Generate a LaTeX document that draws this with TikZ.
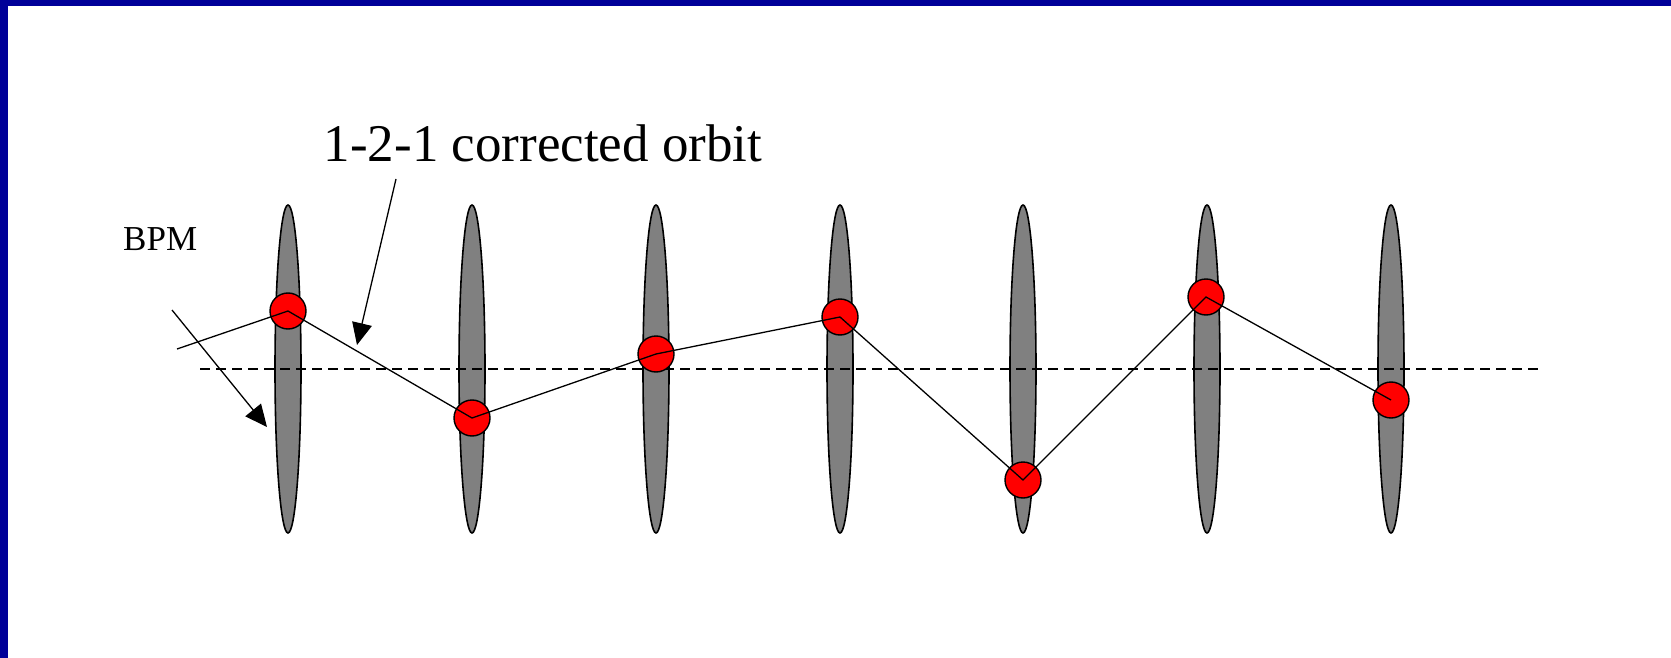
\documentclass[tikz,border=0pt]{standalone}
\usepackage{fontspec}
\setmainfont{Liberation Serif}
\usepackage{xcolor}
\usetikzlibrary{shapes.geometric,arrows.meta,positioning,calc}
\definecolor{frameblue}{RGB}{0,0,153}
\definecolor{lensgray}{RGB}{128,128,128}
\definecolor{bpmred}{RGB}{255,0,0}

\begin{document}
\begin{tikzpicture}[
    x=1pt, y=-1pt,
    lens/.style={ellipse, draw, line width=1.6pt, fill=lensgray, minimum width=26pt, minimum height=328pt, inner sep=0pt},
    bpmdot/.style={circle, draw, line width=1.4pt, fill=bpmred, minimum size=36pt, inner sep=0pt},
    orbit/.style={line width=1.3pt},
    pointer/.style={-{Triangle[length=22pt,width=20pt]}, line width=1.3pt},
    axis/.style={dashed, line width=1.4pt, dash pattern=on 10pt off 6pt}
]
    % page and frame
    \useasboundingbox (0,0) rectangle (1671,658);
    \fill[white] (0,0) rectangle (1671,658);
    \fill[frameblue] (0,0) rectangle (1671,6);
    \fill[frameblue] (0,0) rectangle (8,658);

    % quadrupoles
    \node[lens] (lens1) at (288,369) {};
    \node[lens] (lens2) at (472,369) {};
    \node[lens] (lens3) at (656,369) {};
    \node[lens] (lens4) at (840,369) {};
    \node[lens] (lens5) at (1023,369) {};
    \node[lens] (lens6) at (1207,369) {};
    \node[lens] (lens7) at (1391,369) {};

    % design orbit
    \coordinate (axisstart) at (200,369);
    \coordinate (axisend) at (1539,369);
    \draw[axis] (axisstart) -- (axisend);

    % monitors
    \node[bpmdot] (bpm1) at (288,311) {};
    \node[bpmdot] (bpm2) at (472,418) {};
    \node[bpmdot] (bpm3) at (656,354) {};
    \node[bpmdot] (bpm4) at (840,317) {};
    \node[bpmdot] (bpm5) at (1023,480) {};
    \node[bpmdot] (bpm6) at (1206,297) {};
    \node[bpmdot] (bpm7) at (1391,400) {};

    % corrected orbit
    \coordinate (orbitstart) at (177,349);
    \draw[orbit] (orbitstart) -- (bpm1.center) -- (bpm2.center) -- (bpm3.center)
        -- (bpm4.center) -- (bpm5.center) -- (bpm6.center) -- (bpm7.center);

    % labels
    \node[anchor=base, font=\fontsize{53pt}{58pt}\selectfont, inner sep=0pt] (orbitlabel) at (543,162) {1-2-1 corrected orbit};
    \node[anchor=base west, font=\fontsize{35pt}{40pt}\selectfont, inner sep=0pt] (bpmlabel) at (123,250) {BPM};

    \coordinate (labeltail) at (396,179);
    \coordinate (labeltip) at (357,345);
    \draw[pointer] (labeltail) -- (labeltip);
    \coordinate (bpmtail) at (172,310);
    \coordinate (bpmtip) at (267,427);
    \draw[pointer] (bpmtail) -- (bpmtip);
\end{tikzpicture}
\end{document}
